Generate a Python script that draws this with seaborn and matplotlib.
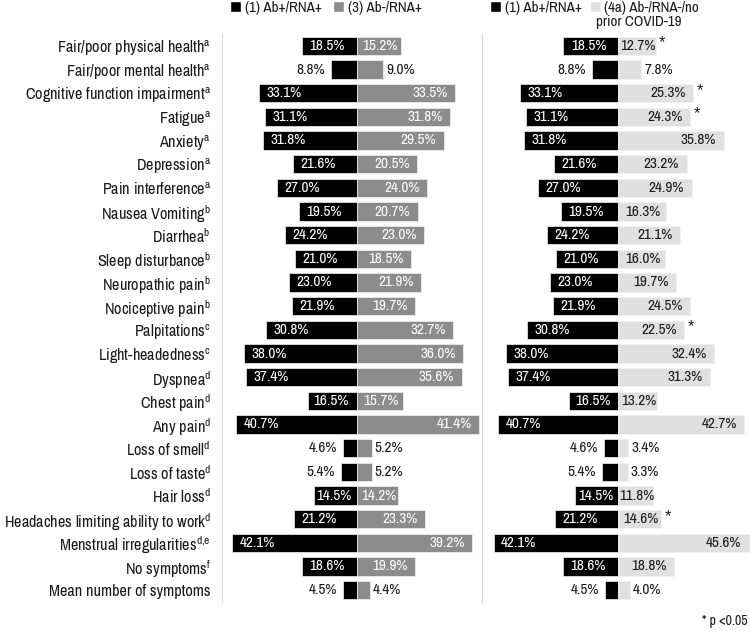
import numpy as np
import pandas as pd
import matplotlib
matplotlib.use("Agg")
import matplotlib.pyplot as plt
import seaborn as sns
from matplotlib.patches import Patch
from matplotlib import font_manager as fm

# ---------------- data ----------------
symptoms = [
    "Fair/poor physical health$^{\\mathrm{a}}$",
    "Fair/poor mental health$^{\\mathrm{a}}$",
    "Cognitive function impairment$^{\\mathrm{a}}$",
    "Fatigue$^{\\mathrm{a}}$",
    "Anxiety$^{\\mathrm{a}}$",
    "Depression$^{\\mathrm{a}}$",
    "Pain interference$^{\\mathrm{a}}$",
    "Nausea Vomiting$^{\\mathrm{b}}$",
    "Diarrhea$^{\\mathrm{b}}$",
    "Sleep disturbance$^{\\mathrm{b}}$",
    "Neuropathic pain$^{\\mathrm{b}}$",
    "Nociceptive pain$^{\\mathrm{b}}$",
    "Palpitations$^{\\mathrm{c}}$",
    "Light-headedness$^{\\mathrm{c}}$",
    "Dyspnea$^{\\mathrm{d}}$",
    "Chest pain$^{\\mathrm{d}}$",
    "Any pain$^{\\mathrm{d}}$",
    "Loss of smell$^{\\mathrm{d}}$",
    "Loss of taste$^{\\mathrm{d}}$",
    "Hair loss$^{\\mathrm{d}}$",
    "Headaches limiting ability to work$^{\\mathrm{d}}$",
    "Menstrual irregularities$^{\\mathrm{d{,}e}}$",
    "No symptoms$^{\\mathrm{f}}$",
    "Mean number of symptoms",
]
g1_ab_rna = [18.5, 8.8, 33.1, 31.1, 31.8, 21.6, 27.0, 19.5, 24.2, 21.0, 23.0, 21.9,
             30.8, 38.0, 37.4, 16.5, 40.7, 4.6, 5.4, 14.5, 21.2, 42.1, 18.6, 4.5]
g3_abneg_rna = [15.2, 9.0, 33.5, 31.8, 29.5, 20.5, 24.0, 20.7, 23.0, 18.5, 21.9, 19.7,
                32.7, 36.0, 35.6, 15.7, 41.4, 5.2, 5.2, 14.2, 23.3, 39.2, 19.9, 4.4]
g4a_none = [12.7, 7.8, 25.3, 24.3, 35.8, 23.2, 24.9, 16.3, 21.1, 16.0, 19.7, 24.5,
            22.5, 32.4, 31.3, 13.2, 42.7, 3.4, 3.3, 11.8, 14.6, 45.6, 18.8, 4.0]
significant = [True, False, True, True, False, False, False, False, False, False, False, False,
               True, False, False, False, False, False, False, False, True, False, False, False]

name1 = "(1) Ab+/RNA+"
name3 = "(3) Ab-/RNA+"
name4_line1 = "(4a) Ab-/RNA-/no"
name4_line2 = "prior COVID-19"

BLACK = "#000000"
GREY = "#8c8c8c"
LIGHT = "#e0e0e0"
TXT = "#1a1a1a"

sns.set_style("white")

available = {f.name for f in fm.fontManager.ttflist}
candidates = ["Liberation Sans Narrow", "Arial Narrow", "Archivo Narrow",
              "PT Sans Narrow", "Roboto Condensed", "Liberation Sans"]
chosen = [c for c in candidates if c in available]
MAIN = chosen[0] if chosen else "DejaVu Sans"
plt.rcParams["font.family"] = [MAIN, "DejaVu Sans"]
plt.rcParams["mathtext.fontset"] = "custom"
plt.rcParams["mathtext.rm"] = MAIN
plt.rcParams["mathtext.it"] = MAIN
plt.rcParams["mathtext.bf"] = MAIN

W, H = 750, 633
fig = plt.figure(figsize=(W / 100, H / 100), dpi=100)
top_px, bot_px = 34, 602
axL = fig.add_axes([222 / W, 1 - bot_px / H, 260 / W, (bot_px - top_px) / H])
axR = fig.add_axes([482 / W, 1 - bot_px / H, 268 / W, (bot_px - top_px) / H])

FS_LAB = 11.7   # category labels
FS_NUM = 11     # value labels
FS_LEG = 10.8   # legend


def panel(ax, left_vals, right_vals, right_color, right_txt_color, xlim, show_labels):
    df = pd.DataFrame({
        "symptom": symptoms * 2,
        "group": ["L"] * len(symptoms) + ["R"] * len(symptoms),
        "value": [-v for v in left_vals] + list(right_vals),
    })
    sns.barplot(data=df, x="value", y="symptom", hue="group", order=symptoms,
                hue_order=["L", "R"], palette={"L": BLACK, "R": right_color},
                dodge=False, width=0.78, orient="h", ax=ax, legend=False,
                edgecolor="#f2f2f2", linewidth=0.5)
    ax.set_xlim(*xlim)
    ax.set_ylim(len(symptoms) - 0.5, -0.5)
    ax.set_xlabel("")
    ax.set_ylabel("")
    ax.set_xticks([])
    for s in ["top", "right", "bottom"]:
        ax.spines[s].set_visible(False)
    ax.spines["left"].set_color("#d9d9d9")
    ax.spines["left"].set_linewidth(0.8)
    if show_labels:
        ax.tick_params(axis="y", length=0, pad=8, labelsize=FS_LAB, labelcolor=TXT)
    else:
        ax.set_yticks([])
    tw = 12.6  # approx label width in data units
    xmax = xlim[1]
    for i, (lv, rv) in enumerate(zip(left_vals, right_vals)):
        if lv >= 10:
            pad = min(2.5, (lv - tw) / 2)
            ax.text(-lv + pad, i, f"{lv:.1f}%", ha="left", va="center",
                    color="white", fontsize=FS_NUM)
        else:
            ax.text(-lv - 2.0, i, f"{lv:.1f}%", ha="right", va="center",
                    color=TXT, fontsize=FS_NUM)
        if rv >= 10:
            pad = min(2.5, (rv - tw) / 2)
            end = min(rv, xmax - 0.6)
            ax.text(end - pad, i, f"{rv:.1f}%", ha="right", va="center",
                    color=right_txt_color, fontsize=FS_NUM)
        else:
            ax.text(rv + 1.0, i, f"{rv:.1f}%", ha="left", va="center",
                    color=TXT, fontsize=FS_NUM)


panel(axL, g1_ab_rna, g3_abneg_rna, GREY, "white", (-45.6, 42.5), True)
panel(axR, g1_ab_rna, g4a_none, LIGHT, TXT, (-46.1, 44.7), False)

for i, (v, sig) in enumerate(zip(g4a_none, significant)):
    if sig:
        axR.text(v + 1.2, i - 0.12, "*", ha="left", va="center", color=TXT,
                 fontsize=12, family="Liberation Sans")

hl = [Patch(facecolor=BLACK), Patch(facecolor=GREY)]
fig.legend(hl, [name1, name3], ncol=2, loc="upper left",
           bbox_to_anchor=(230 / W, 1 - 1 / H), frameon=False,
           handlelength=0.75, handleheight=0.75, handletextpad=0.25,
           columnspacing=0.7, fontsize=FS_LEG, borderpad=0, borderaxespad=0,
           labelcolor=TXT)
hr = [Patch(facecolor=BLACK), Patch(facecolor=LIGHT)]
fig.legend(hr, [name1, name4_line1], ncol=2, loc="upper left",
           bbox_to_anchor=(490 / W, 1 - 1 / H), frameon=False,
           handlelength=0.75, handleheight=0.75, handletextpad=0.25,
           columnspacing=0.5, fontsize=FS_LEG, borderpad=0, borderaxespad=0,
           labelcolor=TXT)
fig.text(596 / W, 1 - 22 / H, name4_line2, ha="left", va="center",
         fontsize=FS_LEG, color=TXT)

fig.text(748 / W, 1 - 621 / H, "* p <0.05", ha="right", va="center",
         fontsize=10, color=TXT)

fig.savefig("out.png", dpi=100)
